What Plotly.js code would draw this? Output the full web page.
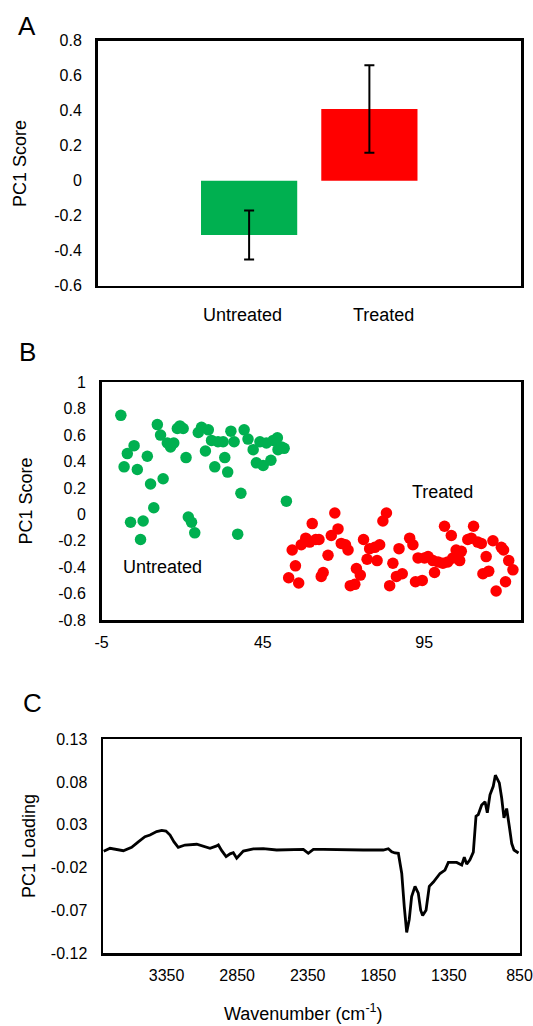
<!DOCTYPE html>
<html>
<head>
<meta charset="utf-8">
<script src="https://cdn.plot.ly/plotly-3.0.1.min.js"></script>
<style>
html,body{margin:0;padding:0;background:#ffffff;}
#chart{width:533px;height:1026px;}
</style>
</head>
<body>
<div id="chart"></div>
<script>
// ---------- Panel A data ----------
const barCategories = ['Untreated', 'Treated'];
const barMeans = [-0.31, 0.41];
const barErrors = [0.14, 0.25];
const barColors = ['#00B050', '#FF0000'];
const scoreTicksA = [-0.6, -0.4, -0.2, 0, 0.2, 0.4, 0.6, 0.8];

// ---------- Panel B data ----------
const untreatedIndex = [1.0, 3.0, 2.0, 5.1, 6.1, 9.2, 10.2, 14.1, 11.2, 4.0, 7.9, 7.1, 12.3, 13.3, 15.4, 16.4, 17.4, 18.5, 19.3, 20.3, 21.2, 21.9, 22.9, 23.9, 25.0, 26.0, 28.1, 27.2, 29.1, 31.1, 32.7, 30.1, 33.2, 34.1, 35.1, 36.1, 39.2, 38.2, 37.2, 40.4, 42.0, 43.0, 44.1, 45.1, 46.1, 47.5, 48.2, 49.5, 49.7, 50.8, 51.6, 52.3];
const untreatedPC1 = [0.75, 0.46, 0.36, 0.52, 0.34, 0.44, 0.23, 0.27, 0.05, -0.06, -0.05, -0.19, 0.68, 0.60, 0.54, 0.51, 0.54, 0.65, 0.67, 0.65, 0.43, -0.02, -0.06, -0.14, 0.62, 0.66, 0.64, 0.48, 0.56, 0.55, 0.55, 0.36, 0.43, 0.32, 0.63, 0.55, 0.64, 0.16, -0.15, 0.57, 0.49, 0.39, 0.55, 0.37, 0.54, 0.41, 0.56, 0.58, 0.49, 0.51, 0.50, 0.10];
const treatedIndex = [53.0, 54.1, 55.1, 56.1, 56.9, 58.3, 59.5, 60.3, 61.4, 62.4, 63.1, 63.7, 65.2, 66.2, 67.3, 68.3, 69.3, 70.6, 71.4, 72.1, 73.5, 74.0, 75.2, 76.2, 77.3, 78.1, 79.7, 80.4, 81.2, 82.2, 83.3, 84.3, 85.3, 86.4, 87.2, 88.2, 90.5, 91.5, 92.3, 93.1, 94.4, 95.1, 96.2, 97.7, 98.2, 99.3, 100.8, 101.3, 102.3, 103.4, 103.9, 104.9, 106.0, 106.5, 108.5, 109.6, 110.3, 111.6, 112.7, 113.2, 114.2, 115.0, 116.3, 117.3, 118.9, 119.6, 120.2, 121.2, 122.5];
const treatedPC1 = [-0.48, -0.27, -0.39, -0.52, -0.23, -0.18, -0.21, -0.07, -0.19, -0.19, -0.47, -0.44, -0.31, -0.16, 0.01, -0.11, -0.22, -0.23, -0.27, -0.54, -0.53, -0.41, -0.46, -0.19, -0.34, -0.26, -0.25, -0.35, -0.23, -0.05, 0.01, -0.54, -0.37, -0.47, -0.26, -0.45, -0.18, -0.23, -0.51, -0.33, -0.50, -0.33, -0.32, -0.35, -0.44, -0.36, -0.37, -0.09, -0.36, -0.16, -0.33, -0.27, -0.35, -0.28, -0.19, -0.18, -0.09, -0.21, -0.22, -0.45, -0.32, -0.43, -0.20, -0.58, -0.25, -0.27, -0.51, -0.35, -0.42];
const indexTicksB = [-5, 45, 95];
const scoreTicksB = [-0.8, -0.6, -0.4, -0.2, 0, 0.2, 0.4, 0.6, 0.8, 1];

// ---------- Panel C data ----------
const wavenumber = [3795, 3750, 3656, 3597, 3550, 3503, 3467, 3420, 3384, 3354, 3325, 3297, 3267, 3219, 3136, 3077, 3042, 2999, 2983, 2959, 2928, 2900, 2877, 2853, 2834, 2806, 2735, 2665, 2570, 2476, 2381, 2346, 2310, 2240, 2098, 1956, 1815, 1779, 1755, 1732, 1708, 1684, 1666, 1649, 1631, 1614, 1590, 1567, 1550, 1536, 1512, 1489, 1460, 1413, 1378, 1354, 1295, 1259, 1241, 1224, 1201, 1177, 1158, 1142, 1118, 1094, 1078, 1059, 1036, 1021, 993, 976, 960, 941, 922, 905, 889, 857];
const loading = [-0.001, 0.0025, -0.0003, 0.0037, 0.010, 0.016, 0.018, 0.022, 0.0235, 0.0227, 0.018, 0.010, 0.0037, 0.0063, 0.0072, 0.0044, 0.0025, 0.005, 0.0064, -0.0003, -0.0073, -0.004, -0.0027, -0.009, -0.0053, -0.0007, 0.0017, 0.002, 0.0005, 0.0005, 0.0013, -0.0034, 0.0013, 0.0013, 0.0005, 0.0005, 0.0005, 0.002, -0.0015, -0.003, -0.0034, -0.027, -0.066, -0.096, -0.081, -0.054, -0.042, -0.050, -0.070, -0.076, -0.070, -0.042, -0.037, -0.027, -0.023, -0.014, -0.014, -0.017, -0.008, -0.016, -0.011, -0.002, 0.040, 0.042, 0.053, 0.057, 0.044, 0.065, 0.075, 0.088, 0.079, 0.061, 0.038, 0.049, 0.028, 0.008, 0.0005, -0.003];
const waveTicks = [3350, 2850, 2350, 1850, 1350, 850];
const loadingTicks = [-0.12, -0.07, -0.02, 0.03, 0.08, 0.13];

// ---------- layout helpers ----------
const W = 533, H = 1026;
const FONT = 'Liberation Sans, Arial, Helvetica, sans-serif';
const dx = (l, r) => [l / W, r / W];
const dy = (t, b) => [1 - b / H, 1 - t / H];
const px = v => v / W;
const py = v => 1 - v / H;
const txt = v => String(v);

const axisBase = {
  showline: true, mirror: true, linecolor: '#000000', linewidth: 2.5,
  showgrid: false, zeroline: false, ticks: '',
  tickfont: {family: FONT, size: 16, color: '#000000'},
  fixedrange: true
};

const traces = [
  {
    type: 'bar', x: barCategories, y: barMeans,
    marker: {color: barColors, line: {width: 0}},
    error_y: {type: 'data', array: barErrors, visible: true, color: '#000000', thickness: 2, width: 5},
    xaxis: 'x', yaxis: 'y', showlegend: false, hoverinfo: 'skip'
  },
  {
    type: 'scatter', mode: 'markers', x: untreatedIndex, y: untreatedPC1,
    marker: {color: '#00B050', size: 11.5, line: {width: 0}},
    xaxis: 'x2', yaxis: 'y2', showlegend: false, name: 'Untreated'
  },
  {
    type: 'scatter', mode: 'markers', x: treatedIndex, y: treatedPC1,
    marker: {color: '#FF0000', size: 11.5, line: {width: 0}},
    xaxis: 'x2', yaxis: 'y2', showlegend: false, name: 'Treated'
  },
  {
    type: 'scatter', mode: 'lines', x: wavenumber, y: loading,
    line: {color: '#000000', width: 2.8},
    xaxis: 'x3', yaxis: 'y3', showlegend: false, name: 'PC1 Loading'
  }
];

const annFont = s => ({family: FONT, size: s, color: '#000000'});
const annotations = [
  {text: 'A', xref: 'paper', yref: 'paper', x: px(27), y: py(26), showarrow: false, font: annFont(26), xanchor: 'center', yanchor: 'middle'},
  {text: 'B', xref: 'paper', yref: 'paper', x: px(27), y: py(352), showarrow: false, font: annFont(26), xanchor: 'center', yanchor: 'middle'},
  {text: 'C', xref: 'paper', yref: 'paper', x: px(32), y: py(703), showarrow: false, font: annFont(26), xanchor: 'center', yanchor: 'middle'},
  {text: 'PC1 Score', xref: 'paper', yref: 'paper', x: px(20.5), y: py(163.5), textangle: -90, showarrow: false, font: annFont(18), xanchor: 'center', yanchor: 'middle'},
  {text: 'PC1 Score', xref: 'paper', yref: 'paper', x: px(25.5), y: py(501), textangle: -90, showarrow: false, font: annFont(18), xanchor: 'center', yanchor: 'middle'},
  {text: 'PC1 Loading', xref: 'paper', yref: 'paper', x: px(29), y: py(846), textangle: -90, showarrow: false, font: annFont(18), xanchor: 'center', yanchor: 'middle'},
  {text: 'Wavenumber (cm<sup>-1</sup>)', xref: 'paper', yref: 'paper', x: px(303), y: py(1012), showarrow: false, font: annFont(18), xanchor: 'center', yanchor: 'middle'},
  {text: barCategories[0], xref: 'x', yref: 'paper', x: -0.051, y: py(315), showarrow: false, font: annFont(18), xanchor: 'center', yanchor: 'middle'},
  {text: barCategories[1], xref: 'x', yref: 'paper', x: 1.119, y: py(315), showarrow: false, font: annFont(18), xanchor: 'center', yanchor: 'middle'},
  {text: 'Untreated', xref: 'x2', yref: 'y2', x: 14.0, y: -0.40, showarrow: false, font: annFont(18), xanchor: 'center', yanchor: 'middle'},
  {text: 'Treated', xref: 'x2', yref: 'y2', x: 100.6, y: 0.17, showarrow: false, font: annFont(18), xanchor: 'center', yanchor: 'middle'}
];

const layout = {
  width: W, height: H,
  margin: {l: 0, r: 0, t: 0, b: 0, pad: 0},
  paper_bgcolor: '#ffffff', plot_bgcolor: '#ffffff',
  font: {family: FONT, color: '#000000'},
  showlegend: false,
  bargap: 0.2,
  xaxis: Object.assign({}, axisBase, {
    domain: dx(97.5, 521), anchor: 'y', type: 'category',
    range: [-1.2606, 2.2606], showticklabels: false
  }),
  yaxis: Object.assign({}, axisBase, {
    domain: dy(40.7, 285.7), anchor: 'x', range: [-0.6, 0.8],
    tickvals: scoreTicksA, ticktext: scoreTicksA.map(txt), ticklabelstandoff: 10
  }),
  xaxis2: Object.assign({}, axisBase, {
    domain: dx(101.5, 521), anchor: 'y2', range: [-5, 125],
    tickvals: indexTicksB, ticktext: indexTicksB.map(txt), ticklabelstandoff: 6
  }),
  yaxis2: Object.assign({}, axisBase, {
    domain: dy(382.3, 620), anchor: 'x2', range: [-0.8, 1],
    tickvals: scoreTicksB, ticktext: scoreTicksB.map(txt), ticklabelstandoff: 10
  }),
  xaxis3: Object.assign({}, axisBase, {
    domain: dx(103, 519.5), anchor: 'y3', range: [3800, 850],
    tickvals: waveTicks, ticktext: waveTicks.map(txt), ticklabelstandoff: 6
  }),
  yaxis3: Object.assign({}, axisBase, {
    domain: dy(739.3, 953), anchor: 'x3', range: [-0.12, 0.13],
    tickvals: loadingTicks, ticktext: loadingTicks.map(txt), ticklabelstandoff: 10
  }),
  annotations: annotations
};

Plotly.newPlot('chart', traces, layout, {displayModeBar: false, staticPlot: true});
</script>
</body>
</html>
